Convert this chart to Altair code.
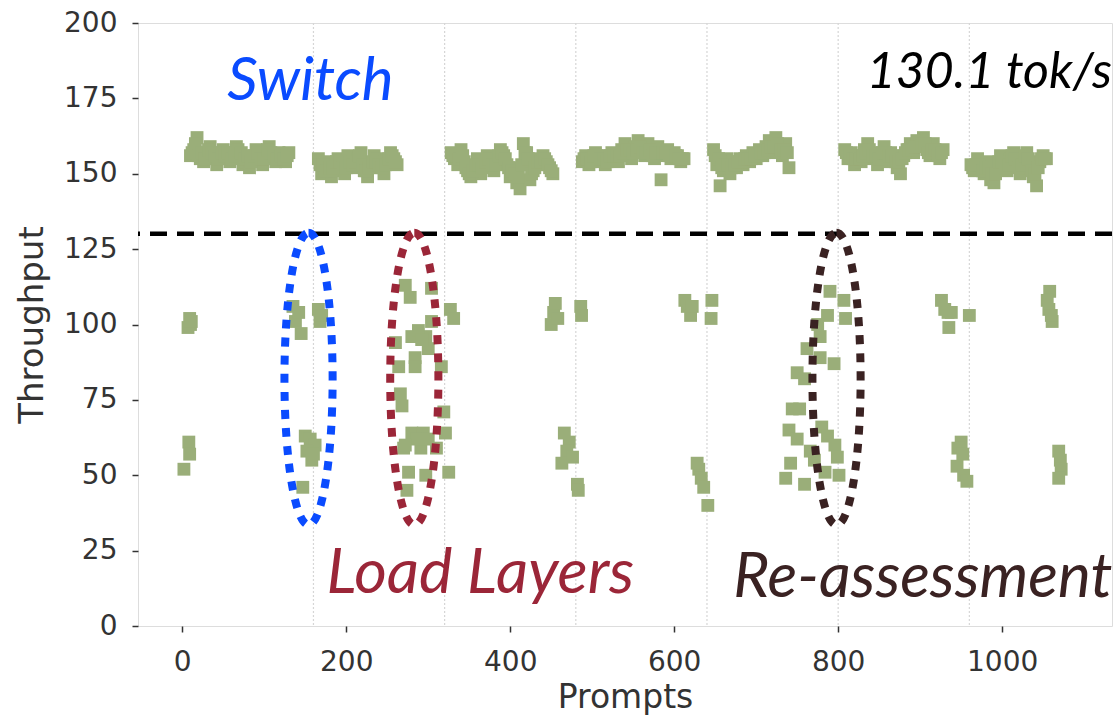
import altair as alt
import pandas as pd

# ---------------- data ----------------
# upper band: seven runs of prompts served at full speed (two interleaved rows per run)
top1_x = [10, 14, 18, 22, 26, 30, 34, 38, 42, 46, 50, 54, 58, 62, 66, 70, 74, 78, 82, 86, 90, 94, 98, 102, 106, 110, 114, 118, 122, 126, 130]
top1_y = [156, 158, 162, 155, 154, 157, 159, 155, 153, 156, 158, 155, 154, 157, 159, 156, 153, 154, 152, 155, 158, 156, 153, 157, 159, 155, 154, 157, 156, 154, 157]
top1b_x = [12, 16, 20, 24, 28, 32, 36, 40, 44, 48, 52, 56, 60, 64, 68, 72, 76, 80, 84, 88, 92, 96, 100, 104, 108, 112, 116, 120, 124, 128]
top1b_y = [157, 160, 156, 157, 155, 158, 157, 156, 155, 157, 156, 157, 155, 156, 158, 157, 155, 156, 154, 156, 157, 155, 155, 158, 157, 156, 155, 156, 155, 156]
top2_x = [166, 170, 174, 178, 182, 186, 190, 194, 198, 202, 206, 210, 214, 218, 222, 226, 230, 234, 238, 242, 246, 250, 254, 258, 262]
top2_y = [155, 150, 152, 154, 149, 151, 155, 153, 150, 156, 154, 152, 155, 157, 151, 149, 153, 156, 155, 152, 150, 154, 157, 155, 153]
top2b_x = [168, 172, 176, 180, 184, 188, 192, 196, 200, 204, 208, 212, 216, 220, 224, 228, 232, 236, 240, 244, 248, 252, 256, 260]
top2b_y = [153, 153, 151, 152, 152, 154, 154, 152, 152, 154, 153, 154, 156, 153, 151, 152, 154, 154, 153, 152, 153, 155, 156, 154]
top3_x = [328, 332, 336, 340, 344, 348, 352, 356, 360, 364, 368, 372, 376, 380, 384, 388, 392, 396, 400, 404, 408, 412, 416, 420, 424, 428, 432, 436, 440, 444, 448, 452]
top3_y = [157, 155, 153, 158, 154, 151, 149, 152, 155, 150, 153, 156, 154, 151, 155, 158, 156, 153, 149, 152, 147, 145, 160, 157, 148, 151, 155, 153, 156, 154, 152, 150]
top3b_x = [330, 334, 338, 342, 346, 350, 354, 358, 362, 366, 370, 374, 378, 382, 386, 390, 394, 398, 402, 406, 410, 414, 418, 422, 426, 430, 434, 438, 442, 446, 450]
top3b_y = [156, 156, 155, 156, 152, 150, 151, 153, 153, 152, 154, 155, 153, 153, 156, 157, 155, 152, 151, 150, 149, 153, 157, 155, 150, 152, 154, 154, 155, 153, 151]
top4_x = [488, 492, 496, 500, 504, 508, 512, 516, 520, 524, 528, 532, 536, 540, 544, 548, 552, 556, 560, 564, 568, 572, 576, 580, 584, 588, 592, 596, 600, 604, 608, 612]
top4_y = [154, 156, 153, 155, 157, 154, 156, 153, 155, 157, 155, 154, 158, 160, 157, 155, 159, 161, 158, 156, 160, 157, 155, 159, 148, 156, 158, 155, 157, 156, 154, 155]
top4b_x = [490, 494, 498, 502, 506, 510, 514, 518, 522, 526, 530, 534, 538, 542, 546, 550, 554, 558, 562, 566, 570, 574, 578, 582, 586, 590, 594, 598, 602, 606, 610]
top4b_y = [155, 155, 154, 156, 156, 155, 155, 154, 156, 156, 156, 156, 157, 158, 158, 157, 158, 159, 157, 157, 158, 156, 157, 157, 157, 157, 156, 156, 156, 155, 155]
top5_x = [648, 652, 656, 660, 664, 668, 672, 676, 680, 684, 688, 692, 696, 700, 704, 708, 712, 716, 720, 724, 728, 732, 736, 740]
top5_y = [158, 153, 146, 151, 155, 150, 154, 152, 155, 153, 156, 154, 157, 155, 158, 156, 159, 161, 157, 162, 159, 156, 160, 152]
top5b_x = [650, 654, 658, 662, 666, 670, 674, 678, 682, 686, 690, 694, 698, 702, 706, 710, 714, 718, 722, 726, 730, 734, 738]
top5b_y = [156, 155, 152, 153, 153, 152, 153, 154, 154, 155, 155, 155, 156, 156, 157, 157, 158, 159, 159, 160, 158, 158, 157]
top6_x = [808, 812, 816, 820, 824, 828, 832, 836, 840, 844, 848, 852, 856, 860, 864, 868, 872, 876, 880, 884, 888, 892, 896, 900, 904, 908, 912, 916, 920, 924, 928]
top6_y = [158, 155, 157, 153, 156, 154, 158, 160, 155, 157, 153, 156, 159, 154, 157, 155, 152, 150, 156, 158, 160, 157, 161, 159, 162, 158, 156, 160, 157, 155, 158]
top6b_x = [810, 814, 818, 822, 826, 830, 834, 838, 842, 846, 850, 854, 858, 862, 866, 870, 874, 878, 882, 886, 890, 894, 898, 902, 906, 910, 914, 918, 922, 926]
top6b_y = [157, 156, 155, 155, 155, 156, 157, 158, 156, 156, 155, 157, 157, 156, 156, 154, 154, 155, 157, 158, 158, 159, 159, 160, 160, 157, 158, 158, 156, 157]
top7_x = [962, 966, 970, 974, 978, 982, 986, 990, 994, 998, 1002, 1006, 1010, 1014, 1018, 1022, 1026, 1030, 1034, 1038, 1042, 1046, 1050, 1054]
top7_y = [153, 151, 155, 152, 150, 154, 148, 147, 152, 156, 153, 151, 155, 157, 153, 150, 155, 157, 152, 149, 146, 154, 156, 155]
top7b_x = [964, 968, 972, 976, 980, 984, 988, 992, 996, 1000, 1004, 1008, 1012, 1016, 1020, 1024, 1028, 1032, 1036, 1040, 1044, 1048, 1052]
top7b_y = [152, 153, 153, 151, 152, 152, 150, 150, 154, 154, 152, 153, 156, 155, 152, 153, 156, 155, 151, 150, 152, 155, 155]

# lower clusters: prompts served while switching / loading / re-assessing
lowA_x = [9, 10, 7, 11, 8, 9, 2]
lowA_y = [102, 100, 99, 101, 61, 57, 52]
lowB_x = [135, 138, 142, 145, 166, 168, 170, 150, 156, 162, 152, 158, 160, 147]
lowB_y = [106, 101, 104, 97, 105, 101, 103, 63, 62, 60, 58, 55, 57, 46]
lowC_x = [272, 278, 304, 327, 331, 304, 280, 297, 260, 300, 284, 284, 264, 316, 266, 268, 319, 321, 280, 294, 291, 270, 310, 276, 297, 325, 274, 288, 292, 286, 300, 272]
lowC_y = [113, 109, 112, 105, 102, 101, 96, 96, 94, 92, 89, 86, 86, 86, 77, 73, 71, 64, 64, 64, 59, 59, 59, 51, 50, 51, 45, 98, 95, 62, 62, 60]
lowD_x = [450, 453, 455, 458, 486, 487, 466, 472, 469, 463, 476, 482, 483]
lowD_y = [100, 104, 107, 102, 106, 103, 64, 61, 58, 54, 56, 47, 45]
lowE_x = [613, 616, 620, 622, 646, 645, 630, 633, 636, 641, 628]
lowE_y = [108, 106, 103, 106, 108, 102, 52, 49, 46, 40, 54]
lowF_x = [790, 807, 787, 809, 778, 762, 778, 795, 750, 759, 744, 753, 740, 750, 780, 787, 796, 799, 742, 736, 759, 784, 801, 771, 775, 766]
lowF_y = [111, 108, 103, 102, 96, 92, 89, 87, 84, 82, 72, 72, 65, 62, 66, 63, 60, 56, 54, 49, 47, 51, 50, 55, 100, 58]
lowG_x = [926, 930, 934, 935, 938, 960, 950, 946, 952, 945, 953, 957]
lowG_y = [108, 105, 104, 99, 104, 103, 61, 59, 57, 53, 50, 48]
lowH_x = [1058, 1055, 1057, 1061, 1060, 1069, 1071, 1072, 1069]
lowH_y = [111, 108, 105, 101, 103, 58, 55, 52, 49]

# phase boundaries (every 160 prompts)
boundaries = [160, 320, 480, 640, 800, 960]

threshold = 130.1

# annotations
labels = ["Switch", "Load Layers", "Re-assessment", "130.1 tok/s"]
label_x = [55, 176, 672, 835]
label_y = [174.5, 11, 9.6, 178.5]
label_colors = ["#0a4bff", "#9b2638", "#3a2222", "#000000"]
label_sizes = [60, 63, 62, 50]

ellipse_labels = ["Switch", "Load Layers", "Re-assessment"]
ellipse_cx = [154, 283, 798]
ellipse_cy = [82, 82, 82]
ellipse_colors = ["#0a4bff", "#9b2638", "#3a2222"]

# ---------------- build ----------------
xs_all = (top1_x + top1b_x + top2_x + top2b_x + top3_x + top3b_x + top4_x + top4b_x + top5_x + top5b_x
          + top6_x + top6b_x + top7_x + top7b_x
          + lowA_x + lowB_x + lowC_x + lowD_x + lowE_x + lowF_x + lowG_x + lowH_x)
ys_all = (top1_y + top1b_y + top2_y + top2b_y + top3_y + top3b_y + top4_y + top4b_y + top5_y + top5b_y
          + top6_y + top6b_y + top7_y + top7b_y
          + lowA_y + lowB_y + lowC_y + lowD_y + lowE_y + lowF_y + lowG_y + lowH_y)
points = pd.DataFrame({"Prompts": xs_all, "Throughput": ys_all})

W, H = 974, 603
xscale = alt.Scale(domain=[-54, 1134], nice=False, zero=False)
yscale = alt.Scale(domain=[0, 200], nice=False)

AX_FONT = "DejaVu Sans"
TXT = "#333333"

x_axis = alt.Axis(values=[0, 200, 400, 600, 800, 1000], format="d", grid=False, domain=False,
                  tickSize=6, tickWidth=1.5, tickColor=TXT, labelFont=AX_FONT,
                  labelFontSize=28, labelColor=TXT, labelPadding=16,
                  title="Prompts", titleFont=AX_FONT, titleFontSize=33,
                  titleFontWeight="normal", titleColor=TXT, titlePadding=5)
y_axis = alt.Axis(values=[0, 25, 50, 75, 100, 125, 150, 175, 200], format="d", grid=False, domain=False,
                  tickSize=6, tickWidth=1.5, tickColor=TXT, labelFont=AX_FONT,
                  labelFontSize=28, labelColor=TXT, labelPadding=15,
                  title="Throughput", titleFont=AX_FONT, titleFontSize=34,
                  titleFontWeight="normal", titleColor=TXT, titlePadding=14)

grid = alt.Chart(pd.DataFrame({"b": boundaries})).mark_rule(
    color="#d6d6d6", strokeWidth=1.2, strokeDash=[2, 2]
).encode(x=alt.X("b:Q", scale=xscale, axis=x_axis))

scatter = alt.Chart(points).mark_square(size=165, color="#9aae79", opacity=1).encode(
    x=alt.X("Prompts:Q", scale=xscale, axis=x_axis),
    y=alt.Y("Throughput:Q", scale=yscale, axis=y_axis),
)

thr = alt.Chart(pd.DataFrame({"t": [threshold]})).mark_rule(
    color="black", strokeWidth=4.5, strokeDash=[17, 10]
).encode(y=alt.Y("t:Q", scale=yscale))

ell_path = "M 0 -1 A 0.165 1 0 1 1 0 1 A 0.165 1 0 1 1 0 -1 Z"
ellipses = alt.Chart(pd.DataFrame({"name": ellipse_labels, "cx": ellipse_cx, "cy": ellipse_cy, "c": ellipse_colors})).mark_point(
    shape=ell_path, size=85264, filled=False, strokeWidth=8, strokeDash=[9, 9], opacity=1
).encode(
    x=alt.X("cx:Q", scale=xscale),
    y=alt.Y("cy:Q", scale=yscale),
    color=alt.Color("c:N", scale=None),
)

texts = alt.Chart(pd.DataFrame({"t": labels, "x": label_x, "y": label_y, "c": label_colors, "s": label_sizes})).mark_text(
    font="Lato", fontStyle="italic", align="left", baseline="alphabetic"
).encode(
    x=alt.X("x:Q", scale=xscale),
    y=alt.Y("y:Q", scale=yscale),
    text="t:N",
    color=alt.Color("c:N", scale=None),
    size=alt.Size("s:Q", scale=None),
)

chart = alt.layer(grid, scatter, thr, ellipses, texts).properties(
    width=W, height=H,
    autosize=alt.AutoSizeParams(type="none"),
    padding={"left": 138, "top": 23, "right": 7, "bottom": 92},
).configure_view(stroke="#333333", strokeWidth=1.5).configure(background="white")

chart.save("out.html", embed_options={"renderer": "svg", "actions": False})
